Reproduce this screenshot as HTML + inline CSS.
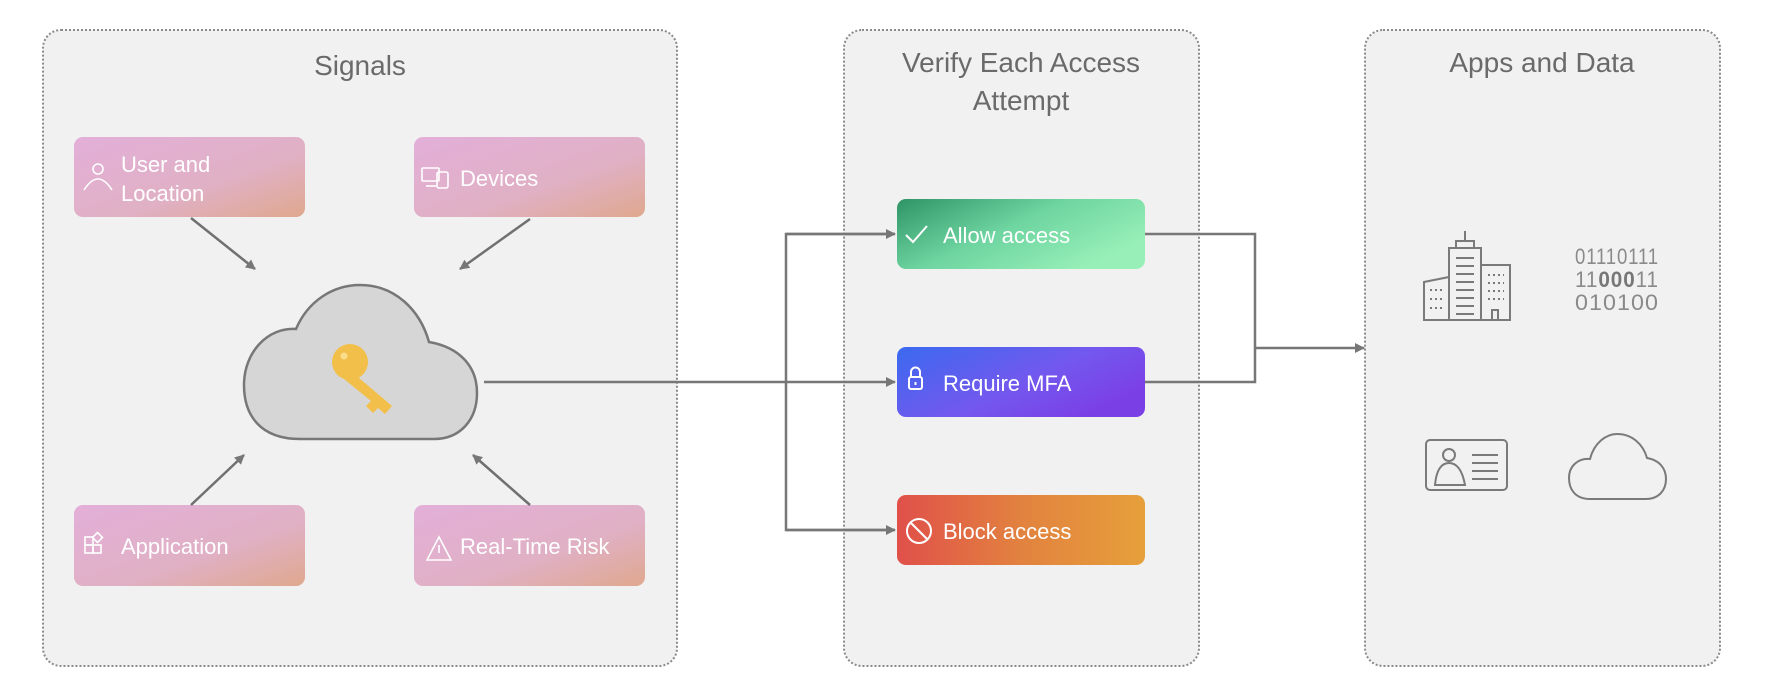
<!DOCTYPE html>
<html><head><meta charset="utf-8"><style>
html,body{margin:0;padding:0;background:#fff;}
svg{display:block;font-family:"Liberation Sans",sans-serif;}
</style></head><body>
<svg width="1769" height="700" viewBox="0 0 1769 700" xmlns="http://www.w3.org/2000/svg">
<defs>
<linearGradient id="pk" x1="0" y1="0" x2="1" y2="1"><stop offset="0" stop-color="#e3afd9"/><stop offset="0.6" stop-color="#e0b0c4"/><stop offset="1" stop-color="#dfa88e"/></linearGradient>
<linearGradient id="gr" x1="0" y1="0" x2="1" y2="0.6"><stop offset="0" stop-color="#2e9466"/><stop offset="0.5" stop-color="#6dd4a0"/><stop offset="1" stop-color="#98f0b8"/></linearGradient>
<linearGradient id="bl" x1="0" y1="0" x2="1" y2="0.6"><stop offset="0" stop-color="#3a6aef"/><stop offset="0.6" stop-color="#7358ee"/><stop offset="1" stop-color="#7b3fe6"/></linearGradient>
<linearGradient id="or" x1="0" y1="0" x2="1" y2="0"><stop offset="0" stop-color="#e0504a"/><stop offset="0.5" stop-color="#e2823f"/><stop offset="1" stop-color="#e6a03a"/></linearGradient>
<marker id="ar" markerWidth="10" markerHeight="10" refX="9" refY="5" orient="auto" markerUnits="userSpaceOnUse"><path d="M0,0 L10,5 L0,10 z" fill="#777"/></marker>
</defs>
<rect width="1769" height="700" fill="#fff"/>
<g fill="#f1f1f1" stroke="#8a8a8a" stroke-width="2" stroke-dasharray="2 2">
<rect x="43" y="30" width="634" height="636" rx="18"/>
<rect x="844" y="30" width="355" height="636" rx="18"/>
<rect x="1365" y="30" width="355" height="636" rx="18"/>
</g>
<g fill="#6a6a6a" font-size="28" text-anchor="middle">
<text x="360" y="75">Signals</text>
<text x="1021" y="72">Verify Each Access</text>
<text x="1021" y="110">Attempt</text>
<text x="1542" y="72">Apps and Data</text>
</g>
<g fill="url(#pk)">
<rect x="74" y="137" width="231" height="80" rx="9"/>
<rect x="414" y="137" width="231" height="80" rx="9"/>
<rect x="74" y="505" width="231" height="81" rx="9"/>
<rect x="414" y="505" width="231" height="81" rx="9"/>
</g>
<g fill="#fff" font-size="22">
<text x="121" y="172">User and</text>
<text x="121" y="201">Location</text>
<text x="460" y="186">Devices</text>
<text x="121" y="554">Application</text>
<text x="460" y="554">Real-Time Risk</text>
</g>
<g fill="none" stroke="#fff" stroke-width="1.6">
<circle cx="98" cy="169" r="5"/><path d="M84,190 Q98,168 112,190"/>
<rect x="422" y="168" width="17" height="13" rx="1"/><rect x="437" y="172" width="11" height="16" rx="2"/><path d="M426,186 h10"/>
<rect x="85" y="537" width="8" height="8"/><rect x="85" y="545" width="8" height="8"/><rect x="93" y="545" width="8" height="8"/><rect x="94" y="534" width="7" height="7" transform="rotate(45 97.5 537.5)"/>
<path d="M427,560 L439,537 L451,560 Z M439,545 v8"/>
</g>
<g stroke="#707070" stroke-width="2.5" marker-end="url(#ar)">
<line x1="191" y1="218" x2="255" y2="269"/>
<line x1="530" y1="219" x2="460" y2="269"/>
<line x1="191" y1="505" x2="244" y2="455"/>
<line x1="530" y1="505" x2="473" y2="455"/>
</g>
<path d="M300,439 C260,439 244,415 244,385 C244,352 268,327 296,329 C308,301 333,285 360,285 C395,285 420,310 429,342 C458,347 477,365 477,393 C477,420 460,439 434,439 Z" fill="#d6d6d6" stroke="#777" stroke-width="2.5"/>
<g fill="#f2c04a">
<circle cx="350" cy="362" r="18"/>
<path d="M352,372 L392,406 L385,414 L378,408 L373,413 L366,406 L371,401 L344,379 Z"/>
</g>
<circle cx="344" cy="356" r="3.5" fill="#f9dd8a"/>
<g fill="none" stroke="#777" stroke-width="2.5">
<line x1="484" y1="382" x2="895" y2="382" marker-end="url(#ar)"/>
<polyline points="895,234 786,234 786,530 895,530"/>
<line x1="786" y1="234" x2="895" y2="234" marker-end="url(#ar)"/>
<line x1="786" y1="530" x2="895" y2="530" marker-end="url(#ar)"/>
<polyline points="1145,234 1255,234 1255,382 1145,382"/>
<line x1="1255" y1="348" x2="1364" y2="348" marker-end="url(#ar)"/>
</g>
<rect x="897" y="199" width="248" height="70" rx="9" fill="url(#gr)"/>
<rect x="897" y="347" width="248" height="70" rx="9" fill="url(#bl)"/>
<rect x="897" y="495" width="248" height="70" rx="9" fill="url(#or)"/>
<g fill="#fff" font-size="22">
<text x="943" y="243">Allow access</text>
<text x="943" y="391">Require MFA</text>
<text x="943" y="539">Block access</text>
</g>
<g fill="none" stroke="#fff" stroke-width="2">
<path d="M906,235 L913,242 L927,226"/>
<rect x="909" y="377" width="13" height="12" rx="2"/><path d="M911,377 v-5 a4.5,4.5 0 0 1 9,0 v5 M915.5,382 v3"/>
<circle cx="919" cy="531" r="12"/><path d="M911,523 L927,539"/>
</g>
<g fill="none" stroke="#7a7a7a" stroke-width="2">
<rect x="1449" y="248" width="32" height="72"/>
<rect x="1456" y="241" width="18" height="7"/><line x1="1465" y1="231" x2="1465" y2="241"/>
<path d="M1449,320 H1424 V282 L1449,277"/>
<path d="M1481,265 H1510 V320 H1481"/>
<rect x="1492" y="310" width="6" height="10"/>
<path d="M1456,258 h18 M1456,266 h18 M1456,274 h18 M1456,282 h18 M1456,290 h18 M1456,298 h18 M1456,306 h18 M1456,314 h18"/>
<path d="M1430,290 h14 M1430,299 h14 M1430,308 h14 M1488,275 h16 M1488,283 h16 M1488,291 h16 M1488,299 h16" stroke-dasharray="2 3"/>
<rect x="1426" y="440" width="81" height="50" rx="4"/>
<circle cx="1449" cy="455" r="6"/><path d="M1435,485 Q1437,463 1449,463 Q1461,463 1465,485 Z"/>
<path d="M1472,455 h26 M1472,463 h26 M1472,471 h26 M1472,479 h26"/>
<path d="M1590,499 C1575,499 1569,489 1569,478 C1569,466 1578,458 1590,459 C1594,443 1606,434 1617,434 C1632,434 1643,444 1647,458 C1659,460 1666,468 1666,479 C1666,491 1658,499 1646,499 Z"/>
</g>
<g fill="#8a8a8a" font-family="Liberation Sans,sans-serif" font-size="22" letter-spacing="1" textLength="84">
<text x="1575" y="264" textLength="84" lengthAdjust="spacingAndGlyphs">01110111</text>
<text x="1575" y="287" textLength="84" lengthAdjust="spacingAndGlyphs">11<tspan font-weight="bold" fill="#777">000</tspan>11</text>
<text x="1575" y="310" textLength="84" lengthAdjust="spacingAndGlyphs">010100</text>
</g>
</svg>
</body></html>
